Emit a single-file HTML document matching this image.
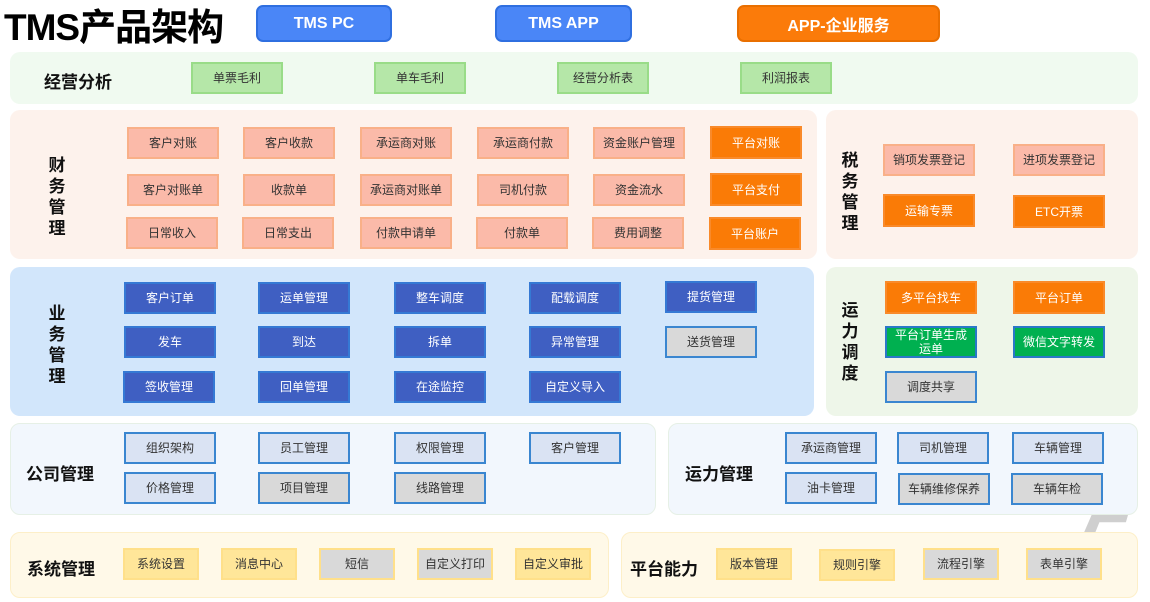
<!DOCTYPE html>
<html><head><meta charset="utf-8">
<style>
*{margin:0;padding:0;box-sizing:border-box}
body{width:1150px;height:602px;background:#fff;position:relative;overflow:hidden;font-family:"Liberation Sans","Noto Sans CJK SC",sans-serif}
.p{position:absolute;border-radius:10px}
.b{position:absolute;display:flex;align-items:center;justify-content:center;text-align:center;font-size:12px;line-height:14px;color:#333;border:2px solid}
.g{background:#b5e7a8;border-color:#99dc88}
.s{background:#fbbaa9;border-color:#f9b088}
.o{background:#fa7b06;border-color:#f98a2a;color:#fff}
.bl{background:#3f5fc2;border-color:#3579d4;color:#fff}
.gr{background:#d9d9d9;border-color:#3a86d0}
.lb{background:#dae3f3;border-color:#3a86d0}
.gn{background:#00b050;border-color:#2a78c8;color:#fff}
.y{background:#ffe699;border-color:#ffe08a}
.gy{background:#d9d9d9;border-color:#ffe08a}
.l{position:absolute;font-weight:bold;font-size:17px;color:#111}
.v{position:absolute;font-weight:bold;font-size:17px;color:#111;width:20px;line-height:21px;text-align:center}
.h{position:absolute;top:5px;height:37px;border-radius:7px;color:#fff;font-weight:bold;font-size:16px;display:flex;align-items:center;justify-content:center}
</style></head><body>
<div style="position:absolute;left:4px;top:-3px;font-size:37px;font-weight:bold;color:#000;letter-spacing:-1px">TMS产品架构</div>
<div class="h" style="left:256px;width:136px;background:#4a86f7;border:2px solid #2f6fe0">TMS PC</div>
<div class="h" style="left:495px;width:137px;background:#4a86f7;border:2px solid #2f6fe0">TMS APP</div>
<div class="h" style="left:737px;width:203px;background:#fb7b0a;border:2px solid #e96f00">APP-企业服务</div>

<div class="p" style="left:10px;top:52px;width:1128px;height:52px;background:#f0faf0"></div>
<div class="l" style="left:44px;top:68px">经营分析</div>
<div class="b g" style="left:191px;top:62px;width:92px;height:32px">单票毛利</div>
<div class="b g" style="left:374px;top:62px;width:92px;height:32px">单车毛利</div>
<div class="b g" style="left:557px;top:62px;width:92px;height:32px">经营分析表</div>
<div class="b g" style="left:740px;top:62px;width:92px;height:32px">利润报表</div>

<div class="p" style="left:10px;top:110px;width:807px;height:149px;background:#fdf2ec"></div>
<div class="v" style="left:47px;top:155px">财务管理</div>
<div class="b s" style="left:127px;top:127px;width:92px;height:32px">客户对账</div>
<div class="b s" style="left:243px;top:127px;width:92px;height:32px">客户收款</div>
<div class="b s" style="left:360px;top:127px;width:92px;height:32px">承运商对账</div>
<div class="b s" style="left:477px;top:127px;width:92px;height:32px">承运商付款</div>
<div class="b s" style="left:593px;top:127px;width:92px;height:32px">资金账户管理</div>
<div class="b o" style="left:710px;top:126px;width:92px;height:33px">平台对账</div>
<div class="b s" style="left:127px;top:174px;width:92px;height:32px">客户对账单</div>
<div class="b s" style="left:243px;top:174px;width:92px;height:32px">收款单</div>
<div class="b s" style="left:360px;top:174px;width:92px;height:32px">承运商对账单</div>
<div class="b s" style="left:477px;top:174px;width:92px;height:32px">司机付款</div>
<div class="b s" style="left:593px;top:174px;width:92px;height:32px">资金流水</div>
<div class="b o" style="left:710px;top:173px;width:92px;height:33px">平台支付</div>
<div class="b s" style="left:126px;top:217px;width:92px;height:32px">日常收入</div>
<div class="b s" style="left:242px;top:217px;width:92px;height:32px">日常支出</div>
<div class="b s" style="left:360px;top:217px;width:92px;height:32px">付款申请单</div>
<div class="b s" style="left:476px;top:217px;width:92px;height:32px">付款单</div>
<div class="b s" style="left:592px;top:217px;width:92px;height:32px">费用调整</div>
<div class="b o" style="left:709px;top:217px;width:92px;height:33px">平台账户</div>

<div class="p" style="left:826px;top:110px;width:312px;height:149px;background:#fdf2ec"></div>
<div class="v" style="left:840px;top:150px">税务管理</div>
<div class="b s" style="left:883px;top:144px;width:92px;height:32px">销项发票登记</div>
<div class="b s" style="left:1013px;top:144px;width:92px;height:32px">进项发票登记</div>
<div class="b o" style="left:883px;top:194px;width:92px;height:33px">运输专票</div>
<div class="b o" style="left:1013px;top:195px;width:92px;height:33px">ETC开票</div>

<div class="p" style="left:10px;top:267px;width:804px;height:149px;background:#d2e6fb"></div>
<div class="v" style="left:47px;top:303px">业务管理</div>
<div class="b bl" style="left:124px;top:282px;width:92px;height:32px">客户订单</div>
<div class="b bl" style="left:258px;top:282px;width:92px;height:32px">运单管理</div>
<div class="b bl" style="left:394px;top:282px;width:92px;height:32px">整车调度</div>
<div class="b bl" style="left:529px;top:282px;width:92px;height:32px">配载调度</div>
<div class="b bl" style="left:665px;top:281px;width:92px;height:32px">提货管理</div>
<div class="b bl" style="left:124px;top:326px;width:92px;height:32px">发车</div>
<div class="b bl" style="left:258px;top:326px;width:92px;height:32px">到达</div>
<div class="b bl" style="left:394px;top:326px;width:92px;height:32px">拆单</div>
<div class="b bl" style="left:529px;top:326px;width:92px;height:32px">异常管理</div>
<div class="b gr" style="left:665px;top:326px;width:92px;height:32px">送货管理</div>
<div class="b bl" style="left:123px;top:371px;width:92px;height:32px">签收管理</div>
<div class="b bl" style="left:258px;top:371px;width:92px;height:32px">回单管理</div>
<div class="b bl" style="left:394px;top:371px;width:92px;height:32px">在途监控</div>
<div class="b bl" style="left:529px;top:371px;width:92px;height:32px">自定义导入</div>

<div class="p" style="left:826px;top:267px;width:312px;height:149px;background:#eef6e9"></div>
<div class="v" style="left:840px;top:300px">运力调度</div>
<div class="b o" style="left:885px;top:281px;width:92px;height:33px">多平台找车</div>
<div class="b o" style="left:1013px;top:281px;width:92px;height:33px">平台订单</div>
<div class="b gn" style="left:885px;top:326px;width:92px;height:32px">平台订单生成<br>运单</div>
<div class="b gn" style="left:1013px;top:326px;width:92px;height:32px">微信文字转发</div>
<div class="b gr" style="left:885px;top:371px;width:92px;height:32px">调度共享</div>

<div class="p" style="left:10px;top:423px;width:646px;height:92px;background:#f2f7fd;border:1px solid #e6f0e6"></div>
<div class="l" style="left:26px;top:460px">公司管理</div>
<div class="b lb" style="left:124px;top:432px;width:92px;height:32px">组织架构</div>
<div class="b lb" style="left:258px;top:432px;width:92px;height:32px">员工管理</div>
<div class="b lb" style="left:394px;top:432px;width:92px;height:32px">权限管理</div>
<div class="b lb" style="left:529px;top:432px;width:92px;height:32px">客户管理</div>
<div class="b lb" style="left:124px;top:472px;width:92px;height:32px">价格管理</div>
<div class="b gr" style="left:258px;top:472px;width:92px;height:32px">项目管理</div>
<div class="b gr" style="left:394px;top:472px;width:92px;height:32px">线路管理</div>

<div style="position:absolute;left:1076px;top:515px;width:52px;height:24px;background:#cfcfcf;clip-path:polygon(30% 0,100% 0,96% 30%,45% 30%,32% 100%,10% 100%)"></div>
<div class="p" style="left:668px;top:423px;width:470px;height:92px;background:#f2f7fd;border:1px solid #e6f0e6"></div>
<div class="l" style="left:685px;top:460px">运力管理</div>
<div class="b lb" style="left:785px;top:432px;width:92px;height:32px">承运商管理</div>
<div class="b lb" style="left:897px;top:432px;width:92px;height:32px">司机管理</div>
<div class="b lb" style="left:1012px;top:432px;width:92px;height:32px">车辆管理</div>
<div class="b lb" style="left:785px;top:472px;width:92px;height:32px">油卡管理</div>
<div class="b gr" style="left:898px;top:473px;width:92px;height:32px">车辆维修保养</div>
<div class="b gr" style="left:1011px;top:473px;width:92px;height:32px">车辆年检</div>

<div class="p" style="left:10px;top:532px;width:599px;height:66px;background:#fff9e8;border:1px solid #fdefc8"></div>
<div class="l" style="left:27px;top:555px">系统管理</div>
<div class="b y" style="left:123px;top:548px;width:76px;height:32px">系统设置</div>
<div class="b y" style="left:221px;top:548px;width:76px;height:32px">消息中心</div>
<div class="b gy" style="left:319px;top:548px;width:76px;height:32px">短信</div>
<div class="b gy" style="left:417px;top:548px;width:76px;height:32px">自定义打印</div>
<div class="b y" style="left:515px;top:548px;width:76px;height:32px">自定义审批</div>

<div class="p" style="left:621px;top:532px;width:517px;height:66px;background:#fff9e8;border:1px solid #fdefc8"></div>
<div class="l" style="left:630px;top:555px">平台能力</div>
<div class="b y" style="left:716px;top:548px;width:76px;height:32px">版本管理</div>
<div class="b y" style="left:819px;top:549px;width:76px;height:32px">规则引擎</div>
<div class="b gy" style="left:923px;top:548px;width:76px;height:32px">流程引擎</div>
<div class="b gy" style="left:1026px;top:548px;width:76px;height:32px">表单引擎</div>
</body></html>
